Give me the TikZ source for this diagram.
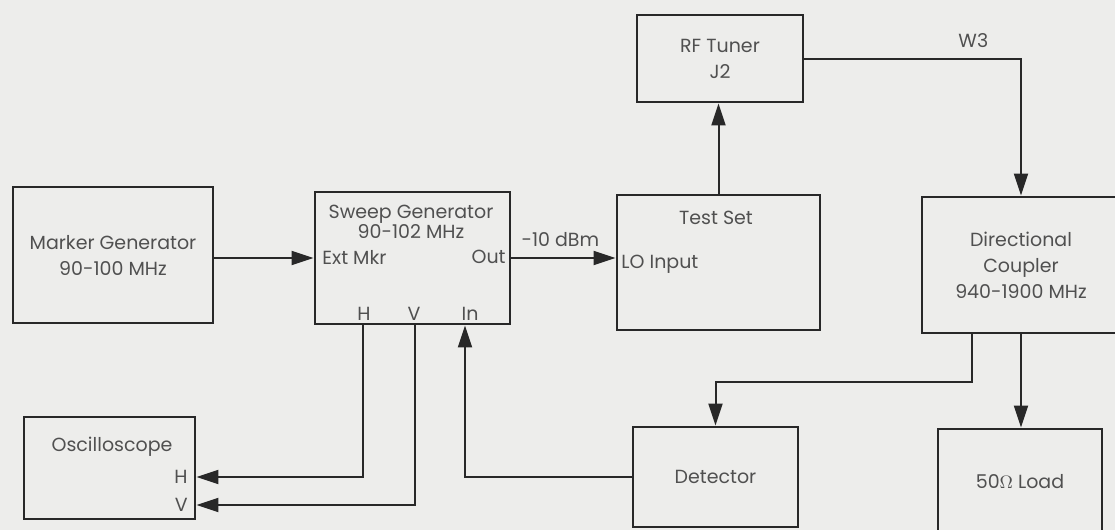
\documentclass[tikz,border=0pt]{standalone}
\usepackage{fontspec}
\setmainfont{Poppins}
\usetikzlibrary{arrows.meta, positioning}
\definecolor{paper}{RGB}{237,237,235}
\definecolor{ink}{RGB}{40,40,40}
\definecolor{print}{RGB}{80,80,80}

\begin{document}
\begin{tikzpicture}[
    x=0.5pt, y=-0.5pt,
    box/.style={rectangle, draw=ink, line width=1.4pt, inner sep=0pt, align=center, text=print, font=\fontsize{9.5}{13}\selectfont},
    tag/.style={text=print, inner sep=1pt, align=center, font=\fontsize{9.5}{10}\selectfont},
    arrow/.style={-{Triangle[length=11pt, width=7pt]}, line width=1pt, draw=ink},
    wire/.style={line width=1pt, draw=ink}
]
\fill[paper] (0,0) rectangle (1115,530);
\useasboundingbox (0,0) rectangle (1115,530);
\clip (0,0) rectangle (1115,530);

\node[box, minimum width=100pt, minimum height=68pt] (marker) at (113,255) {Marker Generator\\90-100 MHz};
\node[box, minimum width=97.5pt, minimum height=66pt] (sweep) at (412.5,258) {};
\node[box, minimum width=101.5pt, minimum height=67.5pt] (testset) at (718.5,262.5) {};
\node[box, minimum width=83pt, minimum height=43.5pt] (rftuner) at (720,58.5) {RF Tuner\\J2};
\node[box, minimum width=99pt, minimum height=68pt] (coupler) at (1021,265) {Directional\\Coupler\\940-1900 MHz};
\node[box, minimum width=85.5pt, minimum height=51pt] (osc) at (109.5,468) {};
\node[box, minimum width=82.5pt, minimum height=50pt] (detector) at (715.5,477) {Detector};
\node[box, minimum width=82pt, minimum height=53pt] (load) at (1020,482) {50$\Omega$ Load};

% labels inside the boxes
\node[tag] (sweeptitle) at (411,222) {Sweep Generator\\90-102 MHz};
\node[tag, anchor=west] (extmkr) at (320,257) {Ext Mkr};
\node[tag, anchor=east] (out) at (508,257) {Out};
\node[tag] (hout) at (364,314) {H};
\node[tag] (vout) at (414,314) {V};
\node[tag] (inlbl) at (470,314) {In};
\node[tag] (tstitle) at (716,218) {Test Set};
\node[tag, anchor=west] (loin) at (619,264) {LO Input};
\node[tag] (osctitle) at (112,447) {Oscilloscope};
\node[tag, anchor=east] (oh) at (190,477) {H};
\node[tag, anchor=east] (ov) at (190,505) {V};

% bend points
\coordinate (hport) at (363,477);
\coordinate (vport) at (415,505);
\coordinate (inport) at (465,477);
\coordinate (tap) at (972,382);

% Arrows
\draw[arrow] (marker.east |- sweep.west) -- (sweep.west);
\draw[arrow] (sweep.east) -- (sweep.east -| testset.west) node[tag, pos=0.47, above=4pt] (lolevel) {-10 dBm};
\draw[arrow] (testset.north) -- (testset.north |- rftuner.south);
\draw[arrow] (rftuner.east) -| (coupler.north) node[tag, pos=0.39, above=4pt] (wthree) {W3};
\draw[arrow] (coupler.south) -- (coupler.south |- load.north);
\draw[arrow] (coupler.south -| tap) -- (tap) -| (detector.north);
\draw[arrow] (detector.west) -- (inport) -- (inport |- sweep.south);
\draw[arrow] (hport |- sweep.south) -- (hport) -- (hport -| osc.east);
\draw[arrow] (vport |- sweep.south) -- (vport) -- (vport -| osc.east);

\end{tikzpicture}
\end{document}
